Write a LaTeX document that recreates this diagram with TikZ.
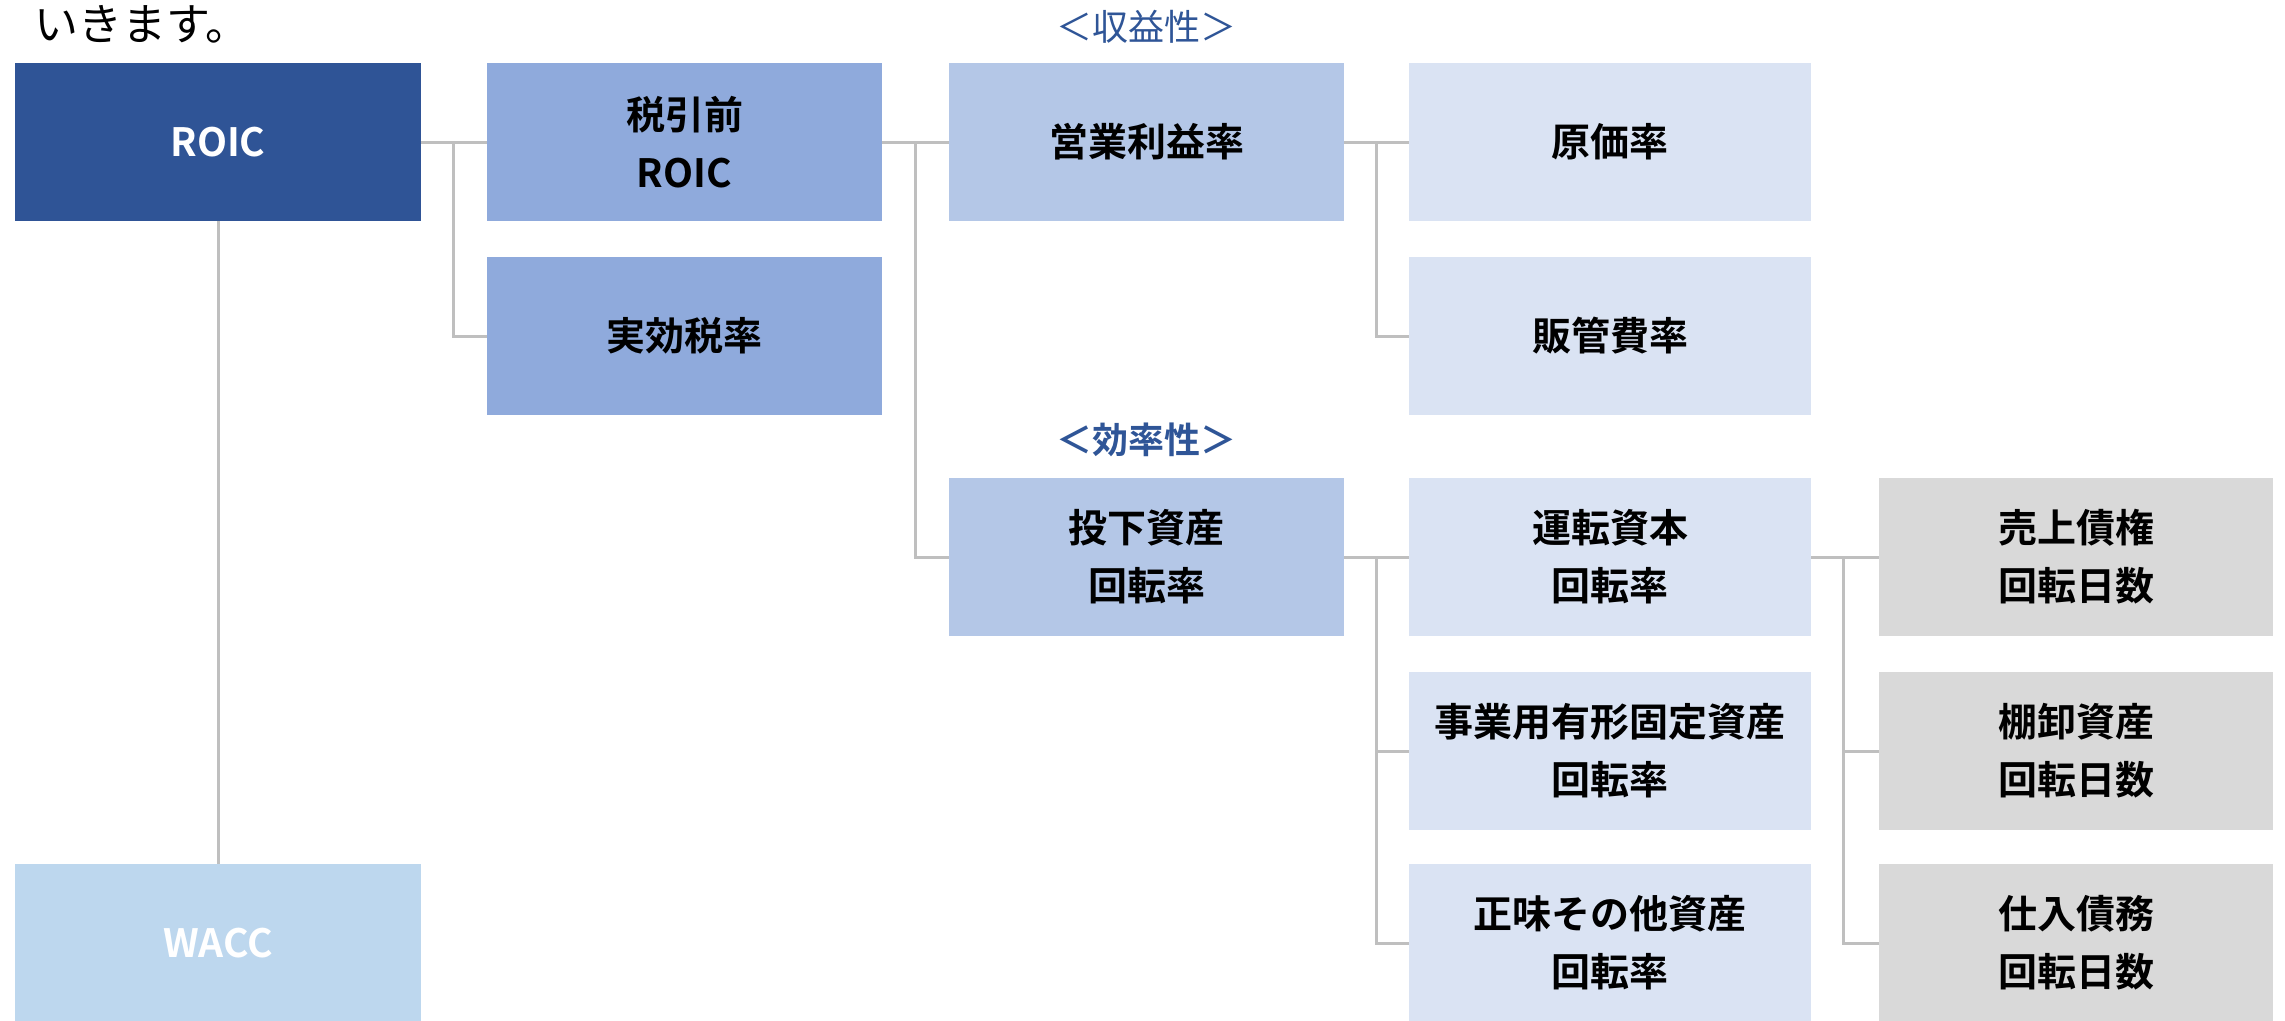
\documentclass[tikz,border=0pt]{standalone}
\usepackage{fontspec}
\setmainfont{Noto Sans CJK JP}[BoldFont={Noto Sans CJK JP Bold}]
\definecolor{cRoic}{HTML}{2F5496}
\definecolor{cTwo}{HTML}{8FAADC}
\definecolor{cThree}{HTML}{B4C7E7}
\definecolor{cFour}{HTML}{DAE3F3}
\definecolor{cFive}{HTML}{D9D9D9}
\definecolor{cWacc}{HTML}{BDD7EE}
\definecolor{cLine}{HTML}{BFBFBF}
\definecolor{cLab}{HTML}{2F5597}
\tikzset{
  box/.style={rectangle, inner sep=0pt, minimum height=158pt, align=center,
    font=\bfseries\fontsize{39}{58}\selectfont, text=black},
  conn/.style={draw=cLine, line width=3pt},
  lab/.style={inner sep=0pt, text=cLab, font=\fontsize{36}{40}\selectfont}
}
\begin{document}
\begin{tikzpicture}[x=1pt,y=-1pt]
\useasboundingbox (0,0) rectangle (2285,1020);
\fill[white] (0,0) rectangle (2285,1020);
\node[inner sep=0pt, anchor=west, font=\fontsize{44}{50}\selectfont] (intro) at (34,24) {いきます。};
% column 1
\node[box, fill=cRoic, text=white, minimum width=406pt] (roic) at (218,142) {ROIC};
\node[box, fill=cWacc, text=white, minimum width=406pt] (wacc) at (218,943) {WACC};
% column 2
\node[box, fill=cTwo, minimum width=395pt] (pre) at (684.5,142) {税引前\\ROIC};
\node[box, fill=cTwo, minimum width=395pt] (tax) at (684.5,336) {実効税率};
% column 3
\node[box, fill=cThree, minimum width=395pt] (opm) at (1146.5,142) {営業利益率};
\node[box, fill=cThree, minimum width=395pt] (inv) at (1146.5,557) {投下資産\\回転率};
% column 4
\node[box, fill=cFour, minimum width=402pt] (cost) at (1610,142) {原価率};
\node[box, fill=cFour, minimum width=402pt] (sga) at (1610,336) {販管費率};
\node[box, fill=cFour, minimum width=402pt] (wc) at (1610,557) {運転資本\\回転率};
\node[box, fill=cFour, minimum width=402pt] (fa) at (1610,751) {事業用有形固定資産\\回転率};
\node[box, fill=cFour, minimum width=402pt] (oth) at (1610,943) {正味その他資産\\回転率};
% column 5
\node[box, fill=cFive, minimum width=394pt] (ar) at (2076,557) {売上債権\\回転日数};
\node[box, fill=cFive, minimum width=394pt] (invd) at (2076,751) {棚卸資産\\回転日数};
\node[box, fill=cFive, minimum width=394pt] (ap) at (2076,943) {仕入債務\\回転日数};
% labels
\node[lab] (lprof) at (1146.5,27) {＜収益性＞};
\node[lab, font=\bfseries\fontsize{36}{40}\selectfont] (leff) at (1146.5,440) {＜効率性＞};
% junctions
\coordinate (j1) at (453,142);
\coordinate (j2) at (915,142);
\coordinate (j3) at (1376,142);
\coordinate (j4) at (1376,557);
\coordinate (j5) at (1843,557);
% connectors
\draw[conn] (roic.south) -- (wacc.north);
\draw[conn] (roic.east) -- (pre.west);
\draw[conn] (j1) |- (tax.west);
\draw[conn] (pre.east) -- (opm.west);
\draw[conn] (j2) |- (inv.west);
\draw[conn] (opm.east) -- (cost.west);
\draw[conn] (j3) |- (sga.west);
\draw[conn] (inv.east) -- (wc.west);
\draw[conn] (j4) |- (fa.west);
\draw[conn] (j4) |- (oth.west);
\draw[conn] (wc.east) -- (ar.west);
\draw[conn] (j5) |- (invd.west);
\draw[conn] (j5) |- (ap.west);
\end{tikzpicture}
\end{document}
